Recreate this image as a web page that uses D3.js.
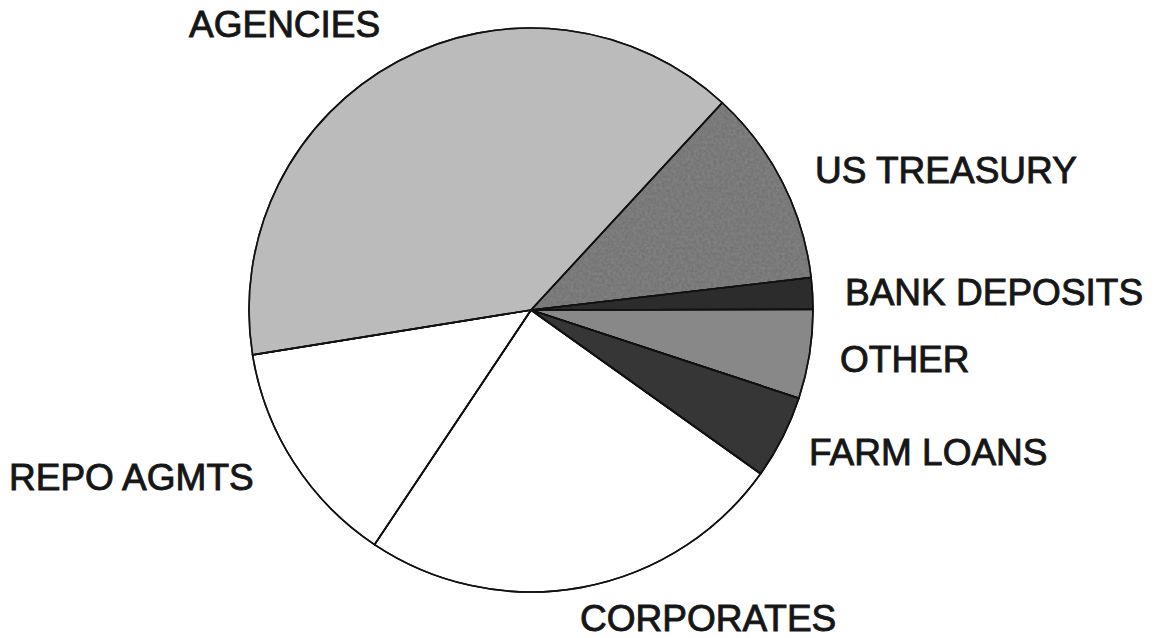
<!DOCTYPE html>
<html>
<head>
<meta charset="utf-8">
<script src="https://cdn.jsdelivr.net/npm/d3@7/dist/d3.min.js"></script>
<style>
  html, body { margin: 0; padding: 0; background: #ffffff; }
  svg { display: block; }
</style>
</head>
<body>
<svg id="chart" width="1163" height="638"></svg>
<script>
// Portfolio composition, percent of total, in clockwise order
const categories = ["US TREASURY", "BANK DEPOSITS", "OTHER", "FARM LOANS", "CORPORATES", "REPO AGMTS", "AGENCIES"];
const shares     = [11.3, 1.8, 5.1, 4.8, 24.5, 13.1, 39.4];
const fills      = ["#747474", "#2c2c2c", "#888888", "#363636", "#ffffff", "#ffffff", "#bbbbbb"];

// Label anchor points (left edge, baseline)
const labelPos = {
  "AGENCIES":      [189, 37],
  "US TREASURY":   [815, 183],
  "BANK DEPOSITS": [845, 305],
  "OTHER":         [840, 372],
  "FARM LOANS":    [809, 465],
  "REPO AGMTS":    [9, 490],
  "CORPORATES":    [580, 631]
};

const svg = d3.select("#chart");
const cx = 531, cy = 310, r = 282;
const start = 42.7 * Math.PI / 180;

// Grain texture for the shaded wedges
const defs = svg.append("defs");
const f = defs.append("filter").attr("id", "grain").attr("x", 0).attr("y", 0).attr("width", 1).attr("height", 1);
f.append("feTurbulence").attr("type", "fractalNoise").attr("baseFrequency", 0.35).attr("numOctaves", 2).attr("seed", 3).attr("result", "noise");
f.append("feColorMatrix").attr("in", "noise").attr("type", "matrix")
  .attr("values", "0 0 0 0 0.5  0 0 0 0 0.5  0 0 0 0 0.5  0 0 0 0.9 -0.25").attr("result", "spots");
f.append("feComposite").attr("in", "spots").attr("in2", "SourceGraphic").attr("operator", "atop").attr("result", "tex");
f.append("feMerge").selectAll("feMergeNode").data(["SourceGraphic", "tex"]).join("feMergeNode").attr("in", d => d);

const pie = d3.pie().sort(null).value(d => d.v).startAngle(start).endAngle(start + 2 * Math.PI);
const arc = d3.arc().innerRadius(0).outerRadius(r);

const data = categories.map((c, i) => ({ c, v: shares[i], fill: fills[i] }));
const g = svg.append("g").attr("transform", `translate(${cx},${cy})`);

g.selectAll("path.slice")
  .data(pie(data))
  .join("path")
  .attr("class", "slice")
  .attr("d", arc)
  .attr("fill", d => d.data.fill)
  .attr("stroke", "#111")
  .attr("stroke-width", 1.6)
  .attr("stroke-linejoin", "round");

// Light grain over Agencies and US Treasury wedges
g.selectAll("path.grain")
  .data(pie(data).filter(d => d.data.c === "AGENCIES" || d.data.c === "US TREASURY"))
  .join("path")
  .attr("class", "grain")
  .attr("d", arc)
  .attr("fill", d => d.data.fill)
  .attr("filter", "url(#grain)")
  .attr("opacity", 0.35);

// Redraw outlines on top
g.selectAll("path.edge")
  .data(pie(data))
  .join("path")
  .attr("class", "edge")
  .attr("d", arc)
  .attr("fill", "none")
  .attr("stroke", "#111")
  .attr("stroke-width", 1.6);

svg.append("g")
  .selectAll("text")
  .data(categories)
  .join("text")
  .attr("x", d => labelPos[d][0])
  .attr("y", d => labelPos[d][1])
  .attr("font-family", "'Liberation Sans', Arial, Helvetica, sans-serif")
  .attr("font-size", 37)
  .attr("fill", "#161616")
  .attr("stroke", "#161616")
  .attr("stroke-width", 0.9)
  .text(d => d);
</script>
</body>
</html>
